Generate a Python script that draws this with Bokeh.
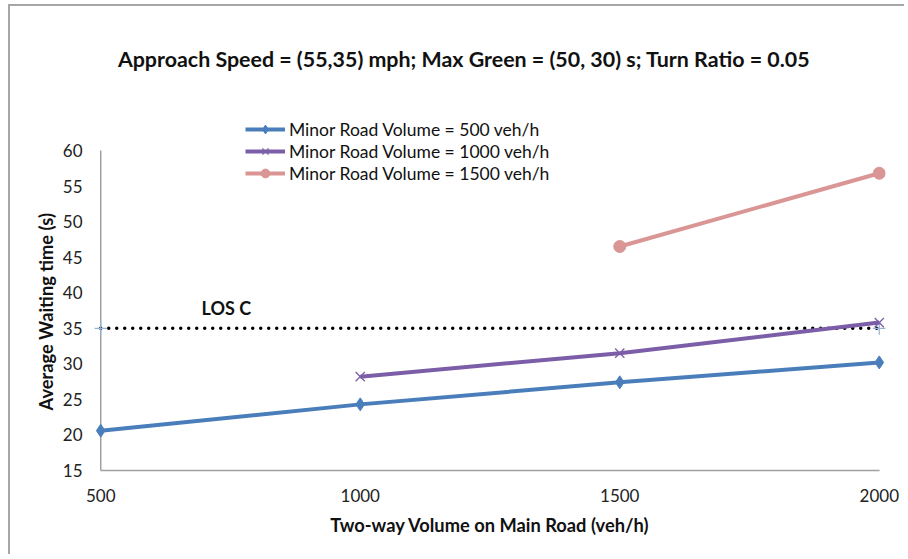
from bokeh.plotting import figure
from bokeh.models import Range1d, Legend, LegendItem, Label, FixedTicker, Title
from bokeh.embed import file_html
from bokeh.resources import INLINE

# ---- data ----
main_volume = [500, 1000, 1500, 2000]
minor_500 = [20.6, 24.3, 27.4, 30.2]
minor_1000_x = [1000, 1500, 2000]
minor_1000 = [28.2, 31.5, 35.8]
minor_1500_x = [1500, 2000]
minor_1500 = [46.5, 56.8]
los_x = [500, 2000]
los_y = [35, 35]
y_ticks = [15, 20, 25, 30, 35, 40, 45, 50, 55, 60]
x_ticks = [500, 1000, 1500, 2000]

title_text = "Approach Speed = (55,35) mph; Max Green = (50, 30) s; Turn Ratio = 0.05"
y_label_text = "Average Waiting time (s)"
x_label_text = "Two-way Volume on Main Road (veh/h)"
FONT = "Lato"

p = figure(width=896, height=550, output_backend="svg", toolbar_location=None,
           x_range=Range1d(488, 2012), y_range=Range1d(15, 75.47),
           min_border_left=84, min_border_right=21, min_border_top=34, min_border_bottom=86)
p.margin = (4, 0, 0, 8)
p.outline_line_color = None
p.grid.visible = False
p.background_fill_color = "white"
p.border_fill_color = "white"
p.styles = {"border-left": "2px solid #a6a6a6", "border-top": "2px solid #a6a6a6"}

# axes
for ax in (p.xaxis[0], p.yaxis[0]):
    ax.axis_line_color = "#a0a0a0"
    ax.axis_line_width = 1.5
    ax.major_tick_line_color = None
    ax.minor_tick_line_color = None
    ax.major_tick_out = 0
    ax.major_tick_in = 0
    ax.minor_tick_out = 0
    ax.major_label_text_font = FONT
    ax.major_label_text_font_size = "17px"
    ax.major_label_text_color = "#222222"
    ax.axis_label_text_font = FONT
    ax.axis_label_text_font_size = "18.3px"
    ax.axis_label_text_font_style = "bold"
    ax.axis_label_text_color = "#111111"

p.xaxis.ticker = FixedTicker(ticks=x_ticks)
p.yaxis.ticker = FixedTicker(ticks=y_ticks)
p.xaxis.bounds = (x_ticks[0], x_ticks[-1])
p.yaxis.bounds = (y_ticks[0], y_ticks[-1])
p.yaxis.axis_line_color = None
p.xaxis.major_label_standoff = 18
p.yaxis.major_label_standoff = 12
p.xaxis.axis_label = x_label_text
p.xaxis.axis_label_standoff = 9

# y axis title, placed along the lower part of the frame (the value range 15-60)
ytitle = Title(text=y_label_text, align="left", offset=60, standoff=5,
               text_font=FONT, text_font_size="18.3px", text_font_style="bold",
               text_color="#111111")
p.add_layout(ytitle, "left")

# vertical axis line at the first x tick
p.segment(x0=[x_ticks[0]], y0=[y_ticks[0]], x1=[x_ticks[0]], y1=[y_ticks[-1]],
          line_color="#a0a0a0", line_width=1.5)

# LOS line
p.line(los_x, los_y, line_color="black", line_width=3.5, line_dash="0 8", line_cap="round")
p.scatter(los_x, los_y, marker="cross", size=13, line_color="#95b3d7", line_width=1.2)

blue = "#4a7ebb"
purple = "#7b5ea7"
pink = "#d99694"

l1 = p.line(main_volume, minor_500, line_color=blue, line_width=4)
m1 = p.scatter(main_volume, minor_500, marker="diamond", size=13, fill_color=blue, line_color=blue)
l2 = p.line(minor_1000_x, minor_1000, line_color=purple, line_width=4)
m2 = p.scatter(minor_1000_x, minor_1000, marker="x", size=13, line_color=purple, line_width=1.3)
l3 = p.line(minor_1500_x, minor_1500, line_color=pink, line_width=4)
m3 = p.scatter(minor_1500_x, minor_1500, marker="circle", size=12, fill_color=pink, line_color=pink)

legend = Legend(items=[
    LegendItem(label="Minor Road Volume = 500 veh/h", renderers=[l1, m1]),
    LegendItem(label="Minor Road Volume = 1000 veh/h", renderers=[l2, m2]),
    LegendItem(label="Minor Road Volume = 1500 veh/h", renderers=[l3, m3]),
], location=(151, 286), orientation="vertical")
legend.border_line_color = None
legend.background_fill_alpha = 0
legend.padding = 0
legend.margin = 0
legend.spacing = 0
legend.label_height = 22
legend.glyph_height = 22
legend.glyph_width = 40
legend.label_standoff = 4
legend.label_text_font = FONT
legend.label_text_font_size = "17.5px"
legend.label_text_color = "#111111"
p.add_layout(legend, "center")

p.add_layout(Label(x=742, y=37.8, text="LOS C", text_font=FONT, text_font_size="18px",
                   text_font_style="bold", text_align="center", text_baseline="middle",
                   text_color="#111111"))

p.add_layout(Label(x=1200, y=72.9, text=title_text,
                   text_font=FONT, text_font_size="21.4px", text_font_style="bold",
                   text_align="center", text_baseline="middle", text_color="#111111"))

open("out.html", "w").write(file_html(p, INLINE))
